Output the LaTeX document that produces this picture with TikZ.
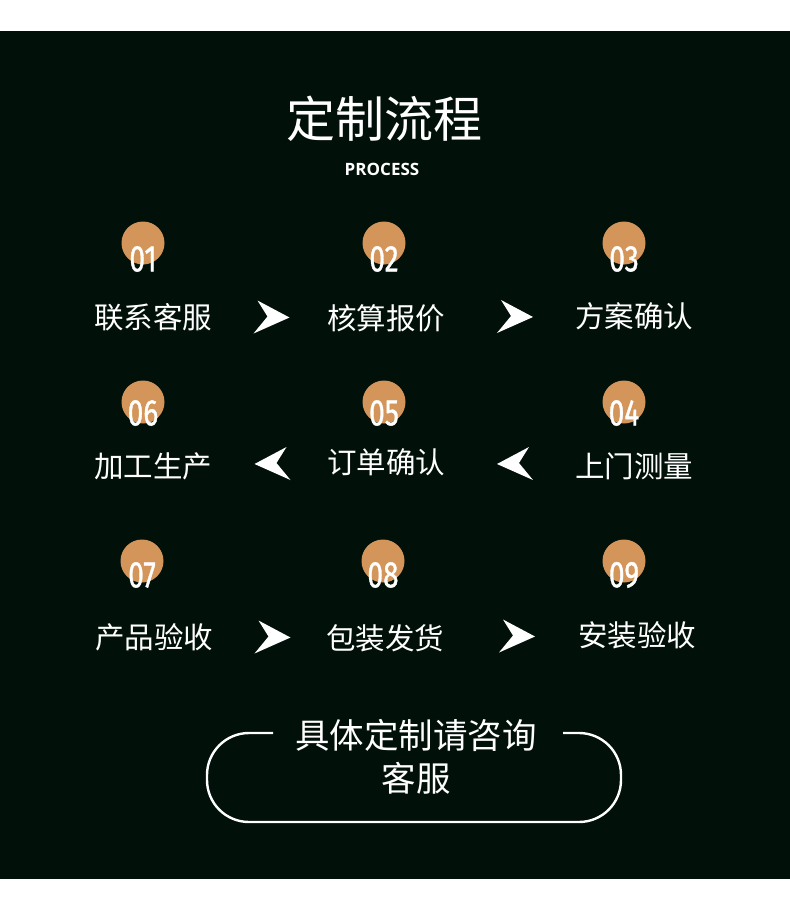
\documentclass[tikz,border=0pt]{standalone}
\usepackage{fontspec}
\setmainfont{Noto Sans CJK SC}
\newfontfamily\numfont[FakeBold=1.2]{Fira Sans}
\newfontfamily\latinfont{Open Sans}
\usetikzlibrary{calc}
\definecolor{bgdark}{RGB}{1,16,8}
\definecolor{badgeorange}{RGB}{211,149,89}
\tikzset{pointer/.pic={\fill[white] (19,0) -- (-13,-17) -- (-3,-1) -- (-17,16) -- cycle;}}

\begin{document}
\begin{tikzpicture}[x=1pt,y=-1pt]
    \tikzstyle{every node}=[text=white,inner sep=0pt]
    \tikzstyle{badge}=[circle,fill=badgeorange,minimum size=43pt]
    \tikzstyle{stepnum}=[font=\numfont\fontsize{37}{37}\selectfont]
    \tikzstyle{stepname}=[font=\fontsize{29.5}{29.5}\selectfont]
    \tikzstyle{frame}=[draw=white,line width=2.4pt,rounded corners=42pt]

    % Page and dark panel
    \useasboundingbox (0,0) rectangle (790,903);
    \fill[white] (0,0) rectangle (790,903);
    \fill[bgdark] (0,31) rectangle (790,879);

    % Heading
    \node[font=\fontsize{49}{49}\selectfont] (title) at (384,119) {定制流程};
    \node[font=\latinfont\bfseries\fontsize{17}{17}\selectfont] (sub) at (382,169) {PROCESS};

    % Draw the steps: badge, number and name
    \foreach \i/\cx/\tx/\cy/\ny/\ty/\name in {
        1/143/153/243/259/317/联系客服, 2/384/386/243/259/318/核算报价,
        3/624/634/243/259/316/方案确认, 4/624/634/402/413/466/上门测量,
        5/384/386/402/413/462/订单确认, 6/143/153/402/413/466/加工生产,
        7/142/154/561/575/637/产品验收, 8/383/385/561/575/638/包装发货,
        9/624/637/561/575/635/安装验收}
    {
        \node[badge] (c\i) at (\cx,\cy) {};
        \node[stepnum] (n\i) at (\cx,\ny) {\scalebox{0.76}[1]{0\i}};
        \node[stepname] (s\i) at (\tx,\ty) {\name};
    }

    % Pointers between the steps
    \foreach \a/\b/\dx in {1/2/1,2/3/4,7/8/2,8/9/5}
        \pic[xshift=\dx] at ($(s\a.east)!0.5!(s\b.west)$) {pointer};
    \foreach \a/\b/\dx in {4/5/6,5/6/4}
        \pic[xshift=\dx,xscale=-1] at ($(s\a.west)!0.5!(s\b.east)$) {pointer};

    % Contact button
    \node[align=center,font=\fontsize{34.5}{43}\selectfont] (ask) at (416,757) {具体定制请咨询\\客服};
    \draw[frame] (273,733) -- (207,733) -- (207,822) -- (621,822) -- (621,733) -- (563,733);
\end{tikzpicture}
\end{document}
